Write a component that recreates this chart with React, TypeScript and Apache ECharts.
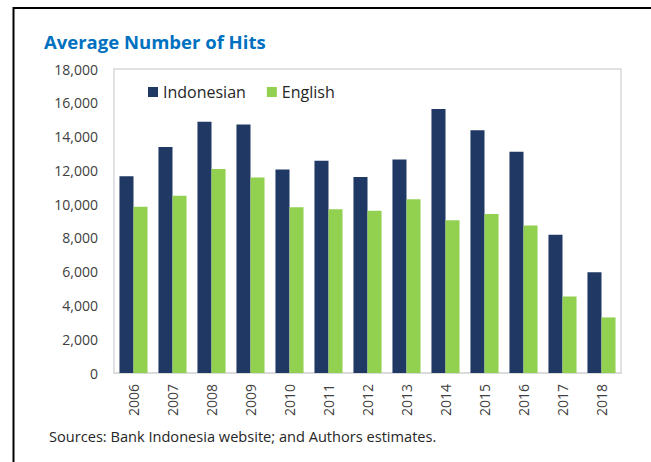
import React, { useEffect, useRef } from "react";
import * as echarts from "echarts";

const years = ["2006", "2007", "2008", "2009", "2010", "2011", "2012", "2013", "2014", "2015", "2016", "2017", "2018"];
const indonesian = [11650, 13380, 14870, 14720, 12050, 12570, 11600, 12640, 15630, 14370, 13100, 8190, 5960];
const english = [9850, 10490, 12080, 11570, 9810, 9690, 9600, 10290, 9050, 9420, 8740, 4530, 3290];
const yTicks = { min: 0, max: 18000, interval: 2000 };
const titleText = "Average Number of Hits";
const sourceText = "Sources: Bank Indonesia website; and Authors estimates.";

const FONT = "'Open Sans', 'Noto Sans', sans-serif";

export default function App() {
  const ref = useRef<HTMLDivElement>(null);
  useEffect(() => {
    if (!ref.current) return;
    const chart = echarts.init(ref.current, null, { renderer: "svg" });
    chart.setOption({
      animation: false,
      backgroundColor: "#ffffff",
      textStyle: { fontFamily: FONT },
      title: {
        text: titleText,
        left: 44,
        top: 32,
        padding: 0,
        textStyle: { color: "#0070C0", fontSize: 18.5, fontWeight: "bold", fontFamily: FONT },
      },
      legend: {
        data: ["Indonesian", "English"],
        left: 148,
        top: 84,
        padding: 0,
        itemWidth: 10,
        itemHeight: 10,
        itemGap: 21,
        icon: "rect",
        textStyle: { color: "#262626", fontSize: 16, fontFamily: FONT },
      },
      grid: {
        left: 114,
        right: 30,
        top: 69,
        bottom: 89,
        show: true,
        borderColor: "#d9d9d9",
        borderWidth: 1.5,
        containLabel: false,
      },
      xAxis: {
        type: "category",
        data: years,
        axisLine: { show: true, lineStyle: { color: "#d9d9d9", width: 1.5 } },
        axisTick: { show: false },
        axisLabel: {
          rotate: 90,
          margin: 11,
          color: "#404040",
          fontSize: 14,
          fontFamily: FONT,
        },
      },
      yAxis: {
        type: "value",
        min: yTicks.min,
        max: yTicks.max,
        interval: yTicks.interval,
        splitLine: { show: false },
        axisLine: { show: false },
        axisTick: { show: false },
        axisLabel: {
          margin: 16,
          color: "#404040",
          fontSize: 14,
          fontFamily: FONT,
          formatter: (v: number) => v.toLocaleString("en-US"),
        },
      },
      series: [
        {
          name: "Indonesian",
          type: "bar",
          data: indonesian,
          barGap: "0%",
          barCategoryGap: "28%",
          itemStyle: { color: "#203864" },
        },
        {
          name: "English",
          type: "bar",
          data: english,
          barGap: "0%",
          barCategoryGap: "28%",
          itemStyle: { color: "#92D050" },
        },
      ],
      graphic: [
        {
          type: "line",
          shape: { x1: 13, y1: 8, x2: 651, y2: 8 },
          style: { stroke: "#000000", lineWidth: 2 },
        },
        {
          type: "line",
          shape: { x1: 13.5, y1: 7, x2: 13.5, y2: 462 },
          style: { stroke: "#000000", lineWidth: 2 },
        },
        {
          type: "text",
          left: 49,
          top: 428,
          style: { text: sourceText, fill: "#262626", fontSize: 14.6, fontFamily: FONT },
        },
      ],
    });
    return () => chart.dispose();
  }, []);
  return (
    <div
      ref={ref}
      style={{ position: "fixed", left: 0, top: 0, width: 651, height: 462 }}
    />
  );
}
